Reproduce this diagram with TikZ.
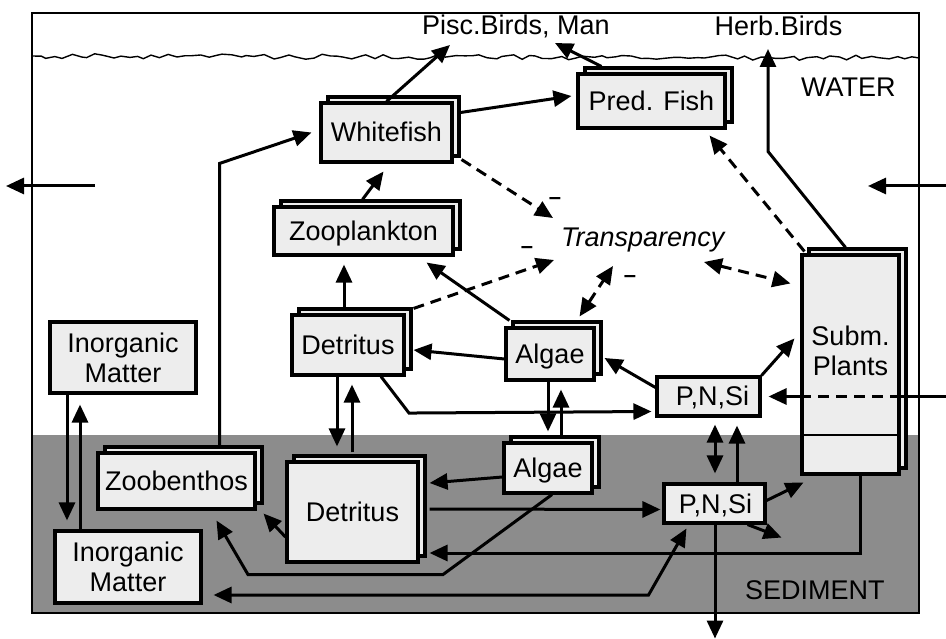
\documentclass[tikz,border=0pt]{standalone}
\usepackage{fontspec}
\setmainfont{Liberation Sans}
\usetikzlibrary{arrows.meta,calc,shadows,decorations.pathmorphing}
\definecolor{sedfill}{gray}{0.55}
\definecolor{boxfill}{gray}{0.93}
\begin{document}
\begin{tikzpicture}[x=1pt,y=-1pt,
  font=\fontsize{27}{30}\selectfont,
  box/.style={draw, line width=3.1pt, fill=boxfill, inner sep=0pt, align=center},
  stack/.style={box, copy shadow={shadow xshift=7pt, shadow yshift=6pt}},
  one/.style={text height=19pt, text depth=0pt},
  arr/.style={line width=3pt, -{Triangle[length=18pt,width=16pt]}},
  darr/.style={line width=3pt, {Triangle[length=18pt,width=16pt]}-{Triangle[length=18pt,width=16pt]}},
  dsh/.style={dash pattern=on 11pt off 7pt},
  minus/.style={font=\fontsize{22}{24}\selectfont\bfseries, inner sep=0pt, anchor=base},
  lbl/.style={inner sep=0pt}
]
\useasboundingbox (0,0) rectangle (946,639);
% background
\fill[sedfill] (32,435) rectangle (919,613);
\draw[line width=1.8pt] (32,13) rectangle (919,613);
\pgfmathsetseed{5}
\draw[line width=1.4pt, decorate, decoration={random steps,segment length=8pt,amplitude=2.6pt}] (32,56) -- (919,58);

% labels
\node[lbl, anchor=base] (pisc) at (516,35) {Pisc.Birds, Man};
\node[lbl, anchor=base] (herb) at (778.5,36) {Herb.Birds};
\node[lbl, anchor=base west] (water) at (801,97) {WATER};
\node[lbl, anchor=base west] (sed) at (745,599) {SEDIMENT};
\node[lbl, anchor=base west, font=\fontsize{27}{30}\selectfont\itshape] (trans) at (561,247) {Transparency};

% boxes
\node[stack, one, minimum width=131pt, minimum height=59pt] (wf) at (386.5,132.5) {Whitefish};
\node[stack, one, minimum width=147pt, minimum height=54pt] (pf) at (651.5,101) {Pred. Fish};
\node[stack, one, minimum width=179pt, minimum height=48pt] (zp) at (363.5,231) {Zooplankton};
\node[stack, minimum width=97pt, minimum height=219pt] (sp) at (850.5,364.5) {};
\draw[line width=1.6pt] (sp.west |- 0,435) -- (sp.east |- 0,435);
\node[lbl, align=center] (sptxt) at (850.5,351) {Subm.\\Plants};
\node[stack, one, minimum width=112pt, minimum height=60pt] (dw) at (348,345) {Detritus};
\node[stack, one, minimum width=88pt, minimum height=52pt] (aw) at (550,354) {Algae};
\node[box, one, minimum width=103pt, minimum height=39pt] (pw) at (708.5,396.5) {\hspace*{8pt}P,N,Si};
\node[box, minimum width=146pt, minimum height=71pt] (iw) at (123,357.5) {Inorganic\\Matter};
\node[stack, one, minimum width=157pt, minimum height=56pt] (zb) at (176.5,481) {Zoobenthos};
\node[stack, one, minimum width=131pt, minimum height=100pt] (ds) at (352.5,512) {Detritus};
\node[box, minimum width=146pt, minimum height=72pt] (is) at (128,567) {Inorganic\\Matter};
\node[stack, one, minimum width=88pt, minimum height=50pt] (as) at (548,468) {Algae};
\node[box, one, minimum width=101pt, minimum height=39pt] (ps) at (714.5,503.5) {\hspace*{2pt}P,N,Si};

% minus signs
\node[minus] (m1) at (555,205) {\textendash};
\node[minus] (m2) at (527,254) {\textendash};
\node[minus] (m3) at (630,283) {\textendash};

% free ends
\coordinate (outL1) at (95,186);
\coordinate (outL2) at (6,186);
\coordinate (inR1) at (946,186);
\coordinate (inR1t) at (868,186);
\coordinate (inR2) at (946,396.5);

% flows across the boundary
\draw[arr] (outL1) -- (outL2);
\draw[arr] (inR1) -- (inR1t);
\draw[line width=3pt] (inR2) -- (sp.east |- pw.center);
\draw[line width=3pt, dsh] (sp.east |- pw.center) -- (sp.west |- pw.center);
\draw[arr] (sp.west |- pw.center) -- ($(pw.east)+(7,0)$);

% water column
\draw[arr] (wf.north) -- ($(pisc.base)+(-66,10)$);
\draw[arr] ($(pf.north west)+(25,-6)$) -- ($(pisc.base)+(39,8)$);
\draw[arr] ($(wf.east)+(7,-20)$) -- ($(pf.west)+(-5,-5)$);
\draw[arr] ($(zb.north)+(43,-6)$) -- ++(0,-282) -- ($(wf.west)+(-8,0)$);
\draw[arr] ($(zp.north)+(-1,-6)$) -- ($(wf.south)+(-3,8)$);
\draw[arr] ($(dw.north)+(-4,-6)$) -- ($(zp.south)+(-19.5,8)$);
\draw[arr] ($(aw.north west)+(5,-6)$) -- ($(zp.south east)+(-28,6)$);
\draw[arr] ($(aw.west)+(0,5)$) -- ($(dw.east)+(8,5)$);
\draw[arr] ($(dw.south)+(33,0)$) -- ++(28,36.5) -- ($(pw.west)+(-4,15)$);
\draw[arr] ($(pw.west)+(0,-9)$) -- ($(aw.east)+(9,4)$);
\draw[arr] (pw.north east) -- ($(sp.west)+(-6,-26)$);
\draw[arr] ($(sp.north)+(-5,-6)$) -- ++(-77.5,-96) -- ($(herb.base)+(-10.5,13)$);

% exchange water / sediment
\draw[arr] ($(aw.south)+(-2,0)$) -- ($(as.north)+(0,-10)$);
\draw[arr] ($(as.north)+(13,-6)$) -- ($(aw.south)+(11,8)$);
\draw[arr] ($(dw.south)+(-11,0)$) -- ($(ds.north)+(-15.5,-14)$);
\draw[arr] ($(ds.north)+(-0.5,-8)$) -- ($(dw.south)+(4,8)$);
\draw[arr] ($(iw.south)+(-56,0)$) -- ($(is.north)+(-61,-9)$);
\draw[arr] ($(is.north)+(-48,0)$) -- ($(iw.south)+(-43,10)$);
\draw[darr] ($(pw.south)+(6.5,7)$) -- ($(ps.north)+(0.5,-9)$);
\draw[arr] ($(ps.north)+(22.5,0)$) -- ($(pw.south)+(28.5,8)$);

% sediment
\draw[arr] ($(ps.east)+(0,-3)$) -- ($(sp.south west)+(3,7)$);
\draw[arr] ($(ps.south east)+(-19,0)$) -- ($(ps.south east)+(15,13)$);
\draw[arr] ($(ps.south)+(0.5,0)$) -- ($(ps.south)+(0.5,114)$);
\draw[arr] ($(sp.south)+(9.5,0)$) |- ($(ds.east)+(10,41)$);
\draw[arr] ($(ds.east)+(10,-3)$) -- ($(ps.west)+(-2,6)$);
\draw[arr] ($(as.west)+(0,9)$) -- ($(ds.east)+(10,-29)$);
\draw[arr] ($(as.south)+(4,0)$) -- ++(-109,80) -- ++(-195,0) -- ($(zb.south)+(40,10)$);
\draw[arr] ($(ds.west)+(0,25)$) -- ($(zb.south east)+(7,3)$);
\draw[darr] ($(is.east)+(11,28)$) -- ++(435,0) -- ($(ps.south west)+(24,4)$);

% transparency effects
\draw[arr, dsh] ($(wf.south east)+(8,-4)$) -- ($(trans.base west)+(-8,-29)$);
\draw[arr, dsh] ($(dw.north east)+(8,-5)$) -- ($(trans.base west)+(-7,13)$);
\draw[darr, dsh] ($(aw.north east)+(-16,-10)$) -- ($(trans.base west)+(52,19)$);
\draw[darr, dsh] ($(trans.base west)+(143,15)$) -- ($(sp.north west)+(-10,30)$);
\draw[arr, dsh] ($(sp.north west)+(4,-2)$) -- ($(pf.south east)+(-17,6)$);
\end{tikzpicture}
\end{document}
